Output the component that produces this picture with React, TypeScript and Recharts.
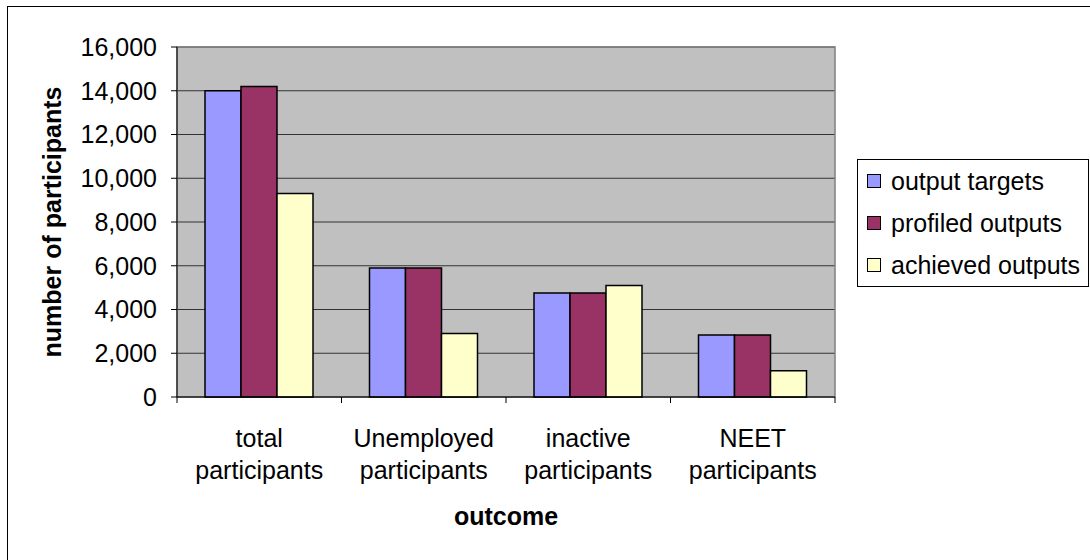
import { Bar, BarChart, CartesianGrid, Legend, ReferenceArea, XAxis, YAxis } from "recharts";

const categories = [
  "total participants",
  "Unemployed participants",
  "inactive participants",
  "NEET participants",
];
const seriesNames = ["output targets", "profiled outputs", "achieved outputs"];
const outputTargets = [14000, 5900, 4750, 2830];
const profiledOutputs = [14200, 5900, 4750, 2830];
const achievedOutputs = [9300, 2900, 5100, 1200];
const yTicks = [0, 2000, 4000, 6000, 8000, 10000, 12000, 14000, 16000];

const data = categories.map((name, i) => ({
  name,
  targets: outputTargets[i],
  profiled: profiledOutputs[i],
  achieved: achievedOutputs[i],
}));

const FONT = "'Liberation Sans', Arial, sans-serif";

// two-line category label plus tick marks on the band edges
function CategoryTick({ x, y, payload }: any) {
  const label = String(payload.value);
  const cut = label.indexOf(" ");
  const half = payload.offset || 0;
  const last = label === categories[categories.length - 1];
  return (
    <g>
      <line x1={x - half} x2={x - half} y1={y} y2={y + 6} stroke="#000" />
      {last && <line x1={x + half} x2={x + half} y1={y} y2={y + 6} stroke="#000" />}
      <text x={x} textAnchor="middle" fontFamily={FONT} fontSize={25} fill="#000">
        <tspan x={x} y={y + 50}>{label.slice(0, cut)}</tspan>
        <tspan x={x} y={y + 82}>{label.slice(cut + 1)}</tspan>
      </text>
    </g>
  );
}

function LegendBox({ payload }: any) {
  const items = [...(payload || [])].sort(
    (a: any, b: any) => seriesNames.indexOf(a.value) - seriesNames.indexOf(b.value)
  );
  return (
    <div
      style={{
        border: "1px solid #000",
        background: "#fff",
        width: 230,
        height: 126,
        fontFamily: FONT,
        fontSize: 25,
        lineHeight: "42px",
        color: "#000",
        boxSizing: "content-box",
      }}
    >
      {items.map((p: any) => (
        <div key={p.value} style={{ display: "flex", alignItems: "center", paddingLeft: 9, whiteSpace: "nowrap" }}>
          <span
            style={{
              display: "inline-block",
              width: 12,
              height: 12,
              border: "1px solid #000",
              background: p.color,
              marginRight: 10,
            }}
          />
          {p.value}
        </div>
      ))}
    </div>
  );
}

export default function App() {
  return (
    <div
      style={{
        position: "fixed",
        left: 0,
        top: 0,
        width: 1090,
        height: 560,
        overflow: "hidden",
        background: "#fff",
      }}
    >
      <div
        style={{
          position: "absolute",
          left: 7,
          top: 6,
          width: 1100,
          height: 600,
          border: "1px solid #000",
        }}
      />
      <div style={{ position: "absolute", left: 0, top: 0 }}>
        <BarChart
          width={1090}
          height={560}
          data={data}
          margin={{ top: 47, right: 255, bottom: 23, left: 0 }}
          barSize={36}
          barGap={0}
        >
          <CartesianGrid vertical={false} stroke="#333" fill="#c0c0c0" fillOpacity={1} />
          <ReferenceArea y1={0} y2={16000} fill="none" stroke="#808080" strokeWidth={1.5} ifOverflow="visible" />
          <XAxis
            dataKey="name"
            interval={0}
            height={140}
            tickSize={0}
            tickMargin={0}
            tickLine={false}
            axisLine={{ stroke: "#000", strokeWidth: 1 }}
            tick={<CategoryTick />}
            label={({ viewBox }: any) => (
              <text
                x={viewBox.x + viewBox.width / 2}
                y={viewBox.y + 128}
                textAnchor="middle"
                fontFamily={FONT}
                fontSize={25}
                fontWeight="bold"
                fill="#000"
              >
                outcome
              </text>
            )}
          />
          <YAxis
            width={177}
            domain={[0, 16000]}
            ticks={yTicks}
            interval={0}
            tickSize={6}
            tickMargin={14}
            axisLine={{ stroke: "#000", strokeWidth: 1 }}
            tickLine={{ stroke: "#000" }}
            tick={{ fontFamily: FONT, fontSize: 25, fill: "#000" }}
            tickFormatter={(v: number) => v.toLocaleString("en-US")}
            label={({ viewBox }: any) => (
              <text
                transform={`translate(${viewBox.x + 52}, ${viewBox.y + viewBox.height / 2}) rotate(-90)`}
                textAnchor="middle"
                dominantBaseline="central"
                fontFamily={FONT}
                fontSize={25}
                fontWeight="bold"
                fill="#000"
              >
                number of participants
              </text>
            )}
          />
          <Legend
            layout="horizontal"
            align="center"
            verticalAlign="middle"
            content={<LegendBox />}
            wrapperStyle={{ position: "absolute", left: 857, top: 159, width: 232, height: 128 }}
          />
          <Bar dataKey="targets" name={seriesNames[0]} fill="#9999ff" stroke="#000" strokeWidth={1.5} isAnimationActive={false} />
          <Bar dataKey="profiled" name={seriesNames[1]} fill="#993366" stroke="#000" strokeWidth={1.5} isAnimationActive={false} />
          <Bar dataKey="achieved" name={seriesNames[2]} fill="#ffffcc" stroke="#000" strokeWidth={1.5} isAnimationActive={false} />
        </BarChart>
      </div>
    </div>
  );
}
